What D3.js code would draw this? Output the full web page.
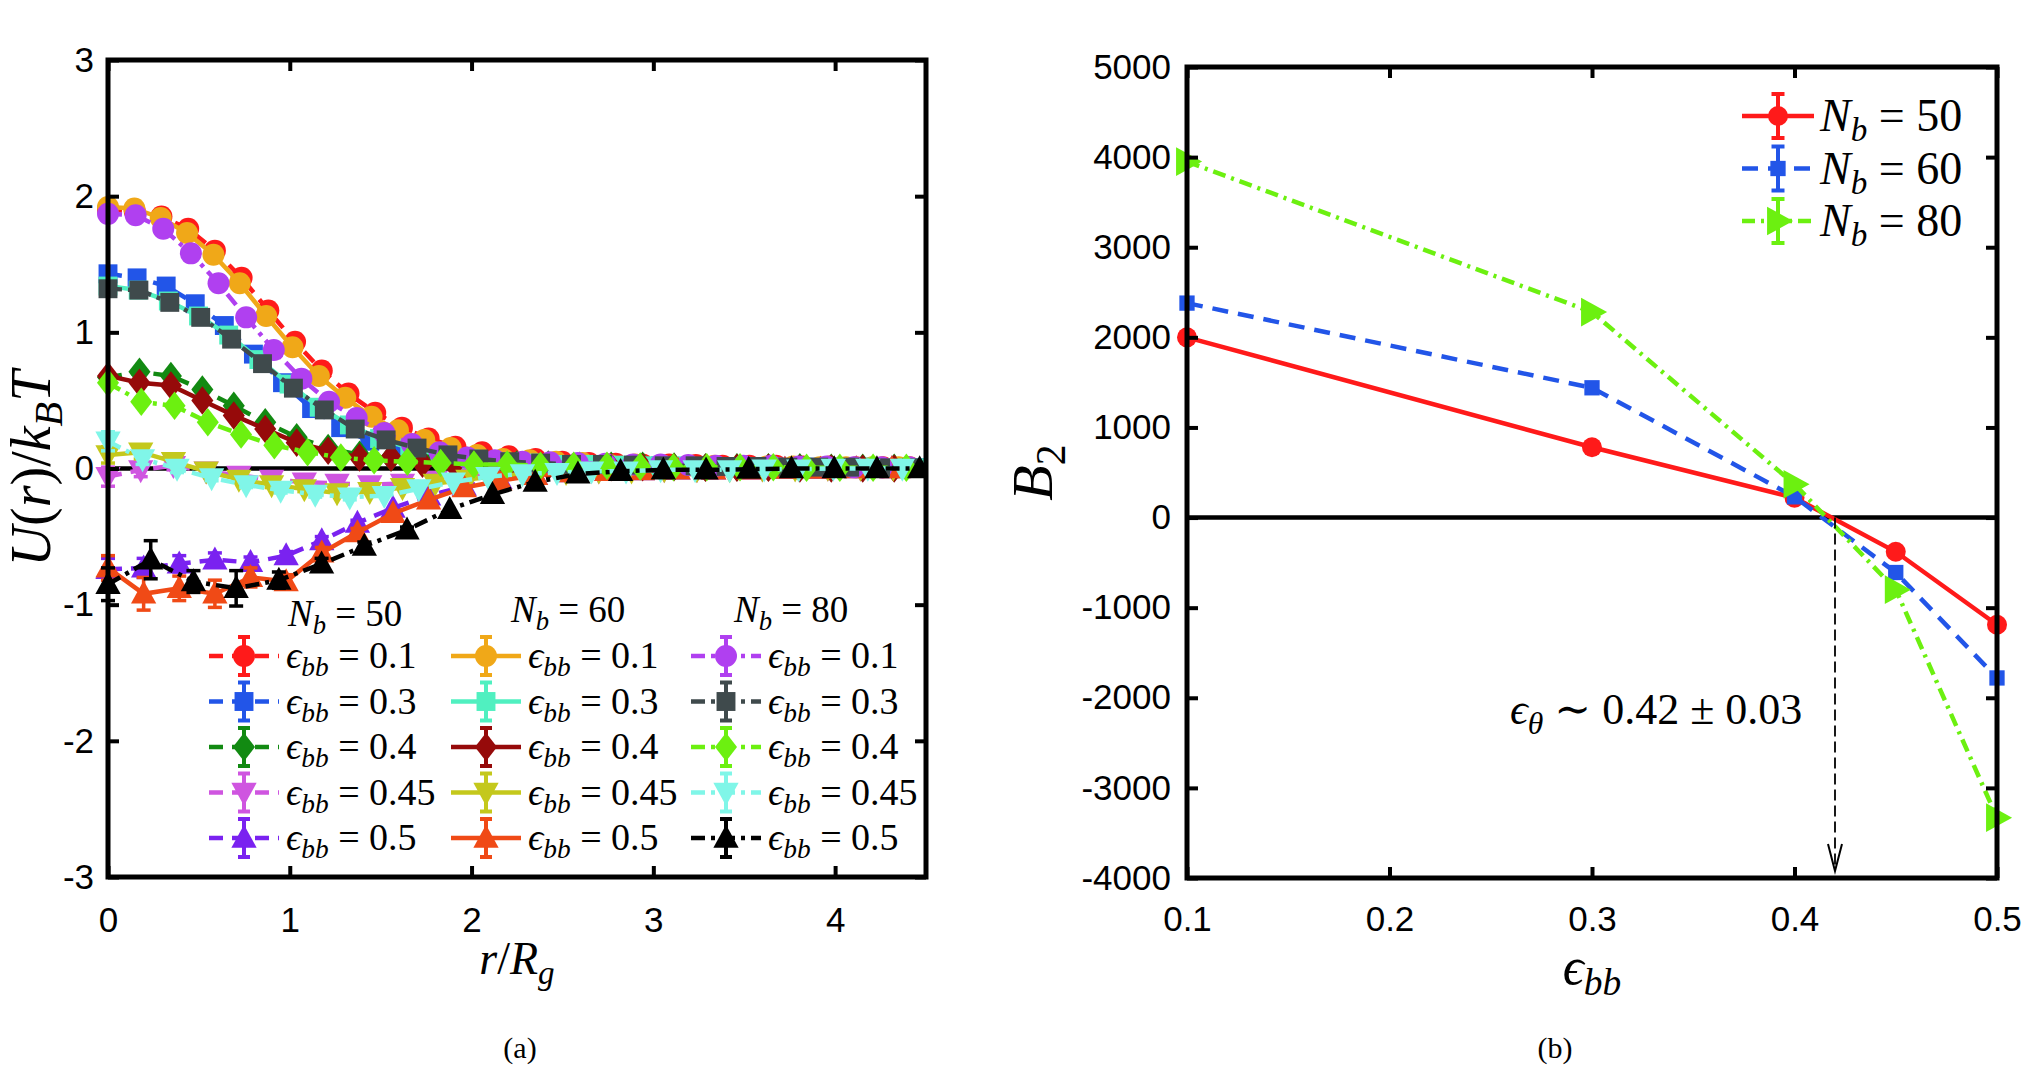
<!DOCTYPE html>
<html><head><meta charset="utf-8">
<script src="https://cdn.jsdelivr.net/npm/d3@7"></script>
<style>body{margin:0;background:#fff;} svg{display:block;background:#fff}</style>
</head><body>
<svg id="c" width="2025" height="1070"></svg>
<script>
// ---------------- DATA: panel (a) ----------------
const rTicks = [0, 1, 2, 3, 4];
const uTicks = [-3, -2, -1, 0, 1, 2, 3];
const epsLevels = ["0.1", "0.3", "0.4", "0.45", "0.5"];
const chainLengths = [50, 60, 80];
// grid spacing in r/Rg for each eps level
const dr_N50 = [0.147, 0.160, 0.173, 0.180, 0.196];
const dr_N60 = [0.145, 0.166, 0.173, 0.180, 0.196];
const dr_N80 = [0.152, 0.170, 0.183, 0.190, 0.235];

const U_N50_e01 = [1.90, 1.89, 1.85, 1.76, 1.60, 1.40, 1.16, 0.93, 0.72, 0.55, 0.41, 0.30, 0.22, 0.16, 0.12, 0.09, 0.07, 0.05, 0.04, 0.035, 0.03, 0.03, 0.025, 0.02, 0.02, 0.02, 0.015, 0.015, 0.01, 0.01, 0.01];
const U_N50_e03 = [1.43, 1.40, 1.34, 1.21, 1.05, 0.84, 0.63, 0.44, 0.30, 0.20, 0.13, 0.09, 0.06, 0.045, 0.035, 0.03, 0.025, 0.02, 0.02, 0.02, 0.015, 0.015, 0.01, 0.01, 0.01, 0.01, 0.01, 0.005, 0.005];
const U_N50_e04 = [0.67, 0.71, 0.68, 0.58, 0.46, 0.34, 0.23, 0.15, 0.10, 0.08, 0.06, 0.05, 0.04, 0.03, 0.03, 0.02, 0.02, 0.02, 0.015, 0.01, 0.01, 0.01, 0.01, 0.005, 0.005, 0.005];
const U_N50_e045 = [-0.06, -0.01, 0.02, -0.02, -0.05, -0.08, -0.10, -0.11, -0.12, -0.11, -0.09, -0.06, -0.04, -0.03, -0.02, -0.02, -0.01, -0.01, -0.01, -0.005, -0.005, 0.0, 0.0, 0.0, 0.0];
const U_N50_e05 = [-0.74, -0.73, -0.70, -0.67, -0.69, -0.64, -0.53, -0.40, -0.29, -0.20, -0.13, -0.08, -0.05, -0.03, -0.02, -0.015, -0.01, -0.01, -0.01, -0.005, -0.005, 0.0, 0.0];

const U_N60_e01 = [1.92, 1.91, 1.84, 1.73, 1.57, 1.36, 1.12, 0.89, 0.68, 0.52, 0.38, 0.28, 0.21, 0.15, 0.10, 0.07, 0.06, 0.05, 0.04, 0.03, 0.03, 0.025, 0.02, 0.02, 0.02, 0.015, 0.015, 0.01, 0.01, 0.01, 0.01];
const U_N60_e03 = [1.34, 1.31, 1.23, 1.12, 0.98, 0.80, 0.62, 0.45, 0.32, 0.22, 0.15, 0.10, 0.07, 0.05, 0.04, 0.03, 0.03, 0.025, 0.02, 0.02, 0.015, 0.015, 0.01, 0.01, 0.01, 0.01, 0.005, 0.005];
const U_N60_e04 = [0.68, 0.63, 0.61, 0.50, 0.39, 0.29, 0.19, 0.13, 0.08, 0.08, 0.035, 0.03, 0.02, 0.02, 0.015, 0.01, 0.01, 0.01, 0.01, 0.005, 0.005, 0.005, 0.0, 0.0, 0.0, 0.0];
const U_N60_e045 = [0.10, 0.12, 0.05, -0.02, -0.08, -0.12, -0.15, -0.18, -0.17, -0.14, -0.11, -0.08, -0.05, -0.04, -0.03, -0.02, -0.02, -0.01, -0.01, -0.01, -0.005, -0.005, 0.0, 0.0, 0.0];
const U_N60_e05 = [-0.73, -0.92, -0.88, -0.92, -0.80, -0.83, -0.62, -0.47, -0.33, -0.23, -0.14, -0.09, -0.05, -0.03, -0.02, -0.015, -0.01, -0.01, -0.01, -0.005, -0.005, 0.0, 0.0];

const U_N80_e01 = [1.87, 1.86, 1.76, 1.58, 1.36, 1.11, 0.87, 0.66, 0.49, 0.37, 0.26, 0.18, 0.12, 0.08, 0.06, 0.05, 0.045, 0.04, 0.035, 0.03, 0.03, 0.025, 0.02, 0.02, 0.02, 0.015, 0.015, 0.01, 0.01, 0.01];
const U_N80_e03 = [1.32, 1.31, 1.22, 1.11, 0.95, 0.77, 0.59, 0.43, 0.29, 0.21, 0.15, 0.10, 0.07, 0.05, 0.04, 0.03, 0.03, 0.025, 0.02, 0.02, 0.015, 0.015, 0.01, 0.01, 0.01, 0.005, 0.005];
const U_N80_e04 = [0.63, 0.49, 0.46, 0.34, 0.25, 0.17, 0.12, 0.08, 0.06, 0.05, 0.04, 0.03, 0.03, 0.02, 0.02, 0.02, 0.015, 0.01, 0.01, 0.01, 0.01, 0.005, 0.005, 0.005, 0.005];
const U_N80_e045 = [0.20, 0.07, 0.0, -0.07, -0.12, -0.16, -0.19, -0.21, -0.20, -0.15, -0.10, -0.06, -0.04, -0.03, -0.02, -0.02, -0.01, -0.01, -0.01, -0.005, -0.005, 0.0, 0.0, 0.0];
const U_N80_e05 = [-0.85, -0.67, -0.83, -0.88, -0.82, -0.70, -0.57, -0.45, -0.30, -0.19, -0.10, -0.04, -0.02, -0.01, -0.01, -0.005, 0.0, 0.0, 0.0, 0.0];

// error bars (first points; remaining are negligible)
const err_N50_e045 = [0.07, 0.05, 0.03, 0.02, 0.02, 0.02, 0.02, 0.02];
const err_N60_e045 = [0.06, 0.05, 0.03, 0.03, 0.02, 0.02, 0.02, 0.02];
const err_N80_e045 = [0.07, 0.04, 0.03, 0.02, 0.02, 0.02, 0.02, 0.02];
const err_N50_e05 = [0.08, 0.07, 0.06, 0.05, 0.04, 0.03, 0.03, 0.02];
const err_N60_e05 = [0.09, 0.12, 0.09, 0.10, 0.07, 0.05, 0.04, 0.03];
const err_N80_e05 = [0.12, 0.14, 0.08, 0.13, 0.06, 0.04, 0.03, 0.02];

// ---------------- DATA: panel (b) ----------------
const epsBB = [0.1, 0.3, 0.4, 0.45, 0.5];
const B2_N50 = [2000, 780, 220, -380, -1190];
const B2_N60 = [2380, 1440, 230, -610, -1780];
const B2_N80 = [3950, 2280, 370, -800, -3330];
const B2Ticks = [-4000, -3000, -2000, -1000, 0, 1000, 2000, 3000, 4000, 5000];
const epsTicks = [0.1, 0.2, 0.3, 0.4, 0.5];
const epsTheta = 0.42;
const epsThetaErr = 0.03;

// ---------------- STYLE ----------------
const SERIF = "'Liberation Serif','DejaVu Serif',serif";
const SANS = "'Liberation Sans',Arial,Helvetica,sans-serif";
const DASH = "14,9";
const DASHDOT = "14,6,4,6";
const groupStyle = {50: DASH, 60: null, 80: DASHDOT};
const shapes = ['o', 's', 'd', 'v', '^'];
const shapeSize = {o: 22, s: 21, d: 23, v: 23, '^': 23};
const colors = {
  50: ["#ff1a1a", "#2255e8", "#128a12", "#cf55e0", "#7a22f0"],
  60: ["#f0a818", "#50f0c0", "#960a0a", "#c4c81c", "#f04a16"],
  80: ["#b040f0", "#3f4a4c", "#6cf010", "#80f6e8", "#000000"]
};
const Udata = {
  50: [U_N50_e01, U_N50_e03, U_N50_e04, U_N50_e045, U_N50_e05],
  60: [U_N60_e01, U_N60_e03, U_N60_e04, U_N60_e045, U_N60_e05],
  80: [U_N80_e01, U_N80_e03, U_N80_e04, U_N80_e045, U_N80_e05]
};
const Edata = {
  50: [null, null, null, err_N50_e045, err_N50_e05],
  60: [null, null, null, err_N60_e045, err_N60_e05],
  80: [null, null, null, err_N80_e045, err_N80_e05]
};
const drData = {50: dr_N50, 60: dr_N60, 80: dr_N80};

const svg = d3.select("#c");

function marker(g, shape, x, y, s, color) {
  let pts;
  if (shape === 'o') { g.append("circle").attr("cx", x).attr("cy", y).attr("r", s / 2).attr("fill", color); return; }
  if (shape === 's') { g.append("rect").attr("x", x - s * 0.45).attr("y", y - s * 0.45).attr("width", s * 0.9).attr("height", s * 0.9).attr("fill", color); return; }
  if (shape === 'd') pts = [[x, y - s * 0.62], [x + s * 0.48, y], [x, y + s * 0.62], [x - s * 0.48, y]];
  if (shape === 'v') pts = [[x - s * 0.55, y - s * 0.42], [x + s * 0.55, y - s * 0.42], [x, y + s * 0.58]];
  if (shape === '^') pts = [[x - s * 0.55, y + s * 0.42], [x + s * 0.55, y + s * 0.42], [x, y - s * 0.58]];
  if (shape === '>') pts = [[x - s * 0.42, y - s * 0.55], [x - s * 0.42, y + s * 0.55], [x + s * 0.58, y]];
  g.append("polygon").attr("points", pts.map(p => p.join(",")).join(" ")).attr("fill", color);
}

function errBar(g, x, y1, y2, color, cap, w) {
  g.append("line").attr("x1", x).attr("x2", x).attr("y1", y1).attr("y2", y2).attr("stroke", color).attr("stroke-width", w);
  [y1, y2].forEach(yy => g.append("line").attr("x1", x - cap / 2).attr("x2", x + cap / 2).attr("y1", yy).attr("y2", yy).attr("stroke", color).attr("stroke-width", w));
}

// math-like text: parts = [{t, i (italic), sub}]
function mathText(g, x, y, parts, size, anchor, transform) {
  const t = g.append("text").attr("x", x).attr("y", y).attr("font-family", SERIF)
    .attr("font-size", size).attr("text-anchor", anchor || "start").attr("fill", "#000");
  if (transform) t.attr("transform", transform);
  let shift = 0;
  parts.forEach(p => {
    const ts = t.append("tspan").text(p.t);
    if (p.i) ts.attr("font-style", "italic");
    const target = p.sub ? size * 0.22 : 0;
    if (target !== shift) { ts.attr("dy", target - shift); shift = target; }
    if (p.sub) ts.attr("font-size", size * 0.72);
  });
  return t;
}

function styleAxis(g) {
  g.select(".domain").remove();
  g.selectAll(".tick line").attr("stroke", "#000").attr("stroke-width", 4);
  g.selectAll(".tick text").attr("font-family", SANS).attr("font-size", 35).attr("fill", "#000");
}

// ================= PANEL (a) =================
const A = {x0: 108, x1: 926, y0: 60, y1: 877};
const xa = d3.scaleLinear().domain([0, 4.5]).range([A.x0, A.x1]);
const ya = d3.scaleLinear().domain([-3, 3]).range([A.y1, A.y0]);
const ga = svg.append("g");

// zero line
ga.append("line").attr("x1", xa(0)).attr("x2", xa(4.5)).attr("y1", ya(0)).attr("y2", ya(0))
  .attr("stroke", "#000").attr("stroke-width", 4.5);

svg.append("clipPath").attr("id", "clipA").append("rect")
  .attr("x", A.x0 - 14).attr("y", A.y0).attr("width", A.x1 - A.x0 + 14).attr("height", A.y1 - A.y0);
const plotA = ga.append("g").attr("clip-path", "url(#clipA)");

chainLengths.forEach(N => {
  epsLevels.forEach((e, k) => {
    const vals = Udata[N][k], errs = Edata[N][k], dr = drData[N][k];
    const col = colors[N][k];
    const pts = vals.map((v, i) => [i * dr, v]);
    const sg = plotA.append("g");
    if (errs) errs.forEach((er, i) => {
      if (i < pts.length) errBar(sg, xa(pts[i][0]), ya(pts[i][1] - er), ya(pts[i][1] + er), col, 14, 3.5);
    });
    const path = sg.append("path").attr("d", d3.line().x(d => xa(d[0])).y(d => ya(d[1]))(pts))
      .attr("fill", "none").attr("stroke", col).attr("stroke-width", 4.5);
    if (groupStyle[N]) path.attr("stroke-dasharray", groupStyle[N]);
    pts.forEach(p => marker(sg, shapes[k], xa(p[0]), ya(p[1]), shapeSize[shapes[k]], col));
  });
});

// frame & ticks
ga.append("rect").attr("x", A.x0).attr("y", A.y0).attr("width", A.x1 - A.x0).attr("height", A.y1 - A.y0)
  .attr("fill", "none").attr("stroke", "#000").attr("stroke-width", 5);
styleAxis(ga.append("g").attr("transform", `translate(0,${A.y1})`).call(d3.axisBottom(xa).tickValues(rTicks).tickSize(-11).tickPadding(30).tickFormat(d3.format("d"))));
styleAxis(ga.append("g").attr("transform", `translate(0,${A.y0})`).call(d3.axisTop(xa).tickValues(rTicks).tickSize(-11).tickFormat("")));
styleAxis(ga.append("g").attr("transform", `translate(${A.x0},0)`).call(d3.axisLeft(ya).tickValues(uTicks).tickSize(-11).tickPadding(14).tickFormat(d => String(d))));
styleAxis(ga.append("g").attr("transform", `translate(${A.x1},0)`).call(d3.axisRight(ya).tickValues(uTicks).tickSize(-11).tickFormat("")));

// axis labels
mathText(ga, 0, 0, [{t: "U", i: 1}, {t: "("}, {t: "r", i: 1}, {t: ")/"}, {t: "k", i: 1}, {t: "B", i: 1, sub: 1}, {t: "T", i: 1}], 56, "middle", `translate(50,${(A.y0 + A.y1) / 2}) rotate(-90)`);
mathText(ga, (A.x0 + A.x1) / 2, 974, [{t: "r", i: 1}, {t: "/"}, {t: "R", i: 1}, {t: "g", i: 1, sub: 1}], 46, "middle");
ga.append("text").attr("x", 520).attr("y", 1058).attr("text-anchor", "middle").attr("font-family", SERIF).attr("font-size", 30).text("(a)");

// legend (a)
const legColLine = [209, 451, 691];
const legColText = [286, 528, 768];
const legHeadX = [288, 511, 734];
const legHeadY = [626, 622, 622];
chainLengths.forEach((N, c) => {
  mathText(ga, legHeadX[c], legHeadY[c], [{t: "N", i: 1}, {t: "b", i: 1, sub: 1}, {t: " = " + N}], 37, "start");
  epsLevels.forEach((e, k) => {
    const cy = 656 + k * 45.5;
    const col = colors[N][k];
    const lg = ga.append("g");
    const ln = lg.append("line").attr("x1", legColLine[c]).attr("x2", legColLine[c] + 70).attr("y1", cy).attr("y2", cy)
      .attr("stroke", col).attr("stroke-width", 4.5);
    if (groupStyle[N]) ln.attr("stroke-dasharray", groupStyle[N]);
    errBar(lg, legColLine[c] + 35, cy - 19, cy + 19, col, 12, 4);
    marker(lg, shapes[k], legColLine[c] + 35, cy, shapeSize[shapes[k]], col);
    mathText(ga, legColText[c], cy + 12, [{t: "ϵ", i: 1}, {t: "bb", i: 1, sub: 1}, {t: " = " + e}], 38, "start");
  });
});

// ================= PANEL (b) =================
const B = {x0: 1187, x1: 1997, y0: 67, y1: 878};
const xb = d3.scaleLinear().domain([0.1, 0.5]).range([B.x0, B.x1]);
const yb = d3.scaleLinear().domain([-4000, 5000]).range([B.y1, B.y0]);
const gb = svg.append("g");

gb.append("line").attr("x1", B.x0).attr("x2", B.x1).attr("y1", yb(0)).attr("y2", yb(0))
  .attr("stroke", "#000").attr("stroke-width", 4.5);

const rightSeries = [
  {N: 50, vals: B2_N50, color: "#ff1a1a", dash: null, shape: 'o', size: 20},
  {N: 60, vals: B2_N60, color: "#2255e8", dash: "16,10", shape: 's', size: 17},
  {N: 80, vals: B2_N80, color: "#6cf010", dash: "13,6,3,6", shape: '>', size: 26}
];
rightSeries.forEach(s => {
  const pts = epsBB.map((x, i) => [x, s.vals[i]]);
  const p = gb.append("path").attr("d", d3.line().x(d => xb(d[0])).y(d => yb(d[1]))(pts))
    .attr("fill", "none").attr("stroke", s.color).attr("stroke-width", 4.5);
  if (s.dash) p.attr("stroke-dasharray", s.dash);
  pts.forEach(d => marker(gb, s.shape, xb(d[0]), yb(d[1]), s.size, s.color));
});

// theta annotation arrow
const ax = xb(epsTheta);
gb.append("line").attr("x1", ax).attr("x2", ax).attr("y1", yb(0)).attr("y2", B.y1 - 8)
  .attr("stroke", "#000").attr("stroke-width", 1.8).attr("stroke-dasharray", "11,5");
gb.append("path").attr("d", `M${ax - 7},${B.y1 - 34} L${ax},${B.y1 - 7} L${ax + 7},${B.y1 - 34}`)
  .attr("fill", "none").attr("stroke", "#000").attr("stroke-width", 2);
mathText(gb, 1510, 724, [{t: "ϵ", i: 1}, {t: "θ", i: 1, sub: 1}, {t: " ∼ " + epsTheta.toFixed(2) + " ± " + epsThetaErr.toFixed(2)}], 44, "start");

gb.append("rect").attr("x", B.x0).attr("y", B.y0).attr("width", B.x1 - B.x0).attr("height", B.y1 - B.y0)
  .attr("fill", "none").attr("stroke", "#000").attr("stroke-width", 5);
styleAxis(gb.append("g").attr("transform", `translate(0,${B.y1})`).call(d3.axisBottom(xb).tickValues(epsTicks).tickSize(-11).tickPadding(28).tickFormat(d3.format(".1f"))));
styleAxis(gb.append("g").attr("transform", `translate(0,${B.y0})`).call(d3.axisTop(xb).tickValues(epsTicks).tickSize(-11).tickFormat("")));
styleAxis(gb.append("g").attr("transform", `translate(${B.x0},0)`).call(d3.axisLeft(yb).tickValues(B2Ticks).tickSize(-11).tickPadding(16).tickFormat(d => String(d))));
styleAxis(gb.append("g").attr("transform", `translate(${B.x1},0)`).call(d3.axisRight(yb).tickValues(B2Ticks).tickSize(-11).tickFormat("")));

mathText(gb, 0, 0, [{t: "B", i: 1}, {t: "2", sub: 1}], 58, "middle", `translate(1052,${(B.y0 + B.y1) / 2}) rotate(-90)`);
mathText(gb, (B.x0 + B.x1) / 2, 984, [{t: "ϵ", i: 1}, {t: "bb", i: 1, sub: 1}], 52, "middle");
gb.append("text").attr("x", 1555).attr("y", 1058).attr("text-anchor", "middle").attr("font-family", SERIF).attr("font-size", 30).text("(b)");

// legend (b)
rightSeries.forEach((s, k) => {
  const cy = 116 + k * 52.5;
  const lg = gb.append("g");
  const ln = lg.append("line").attr("x1", 1742).attr("x2", 1814).attr("y1", cy).attr("y2", cy)
    .attr("stroke", s.color).attr("stroke-width", 4.5);
  if (s.dash) ln.attr("stroke-dasharray", s.dash);
  errBar(lg, 1778, cy - 22, cy + 22, s.color, 13, 4);
  marker(lg, s.shape, 1778, cy, s.size, s.color);
  mathText(gb, 1820, cy + 15, [{t: "N", i: 1}, {t: "b", i: 1, sub: 1}, {t: " = " + s.N}], 46, "start");
});
</script>
</body></html>
